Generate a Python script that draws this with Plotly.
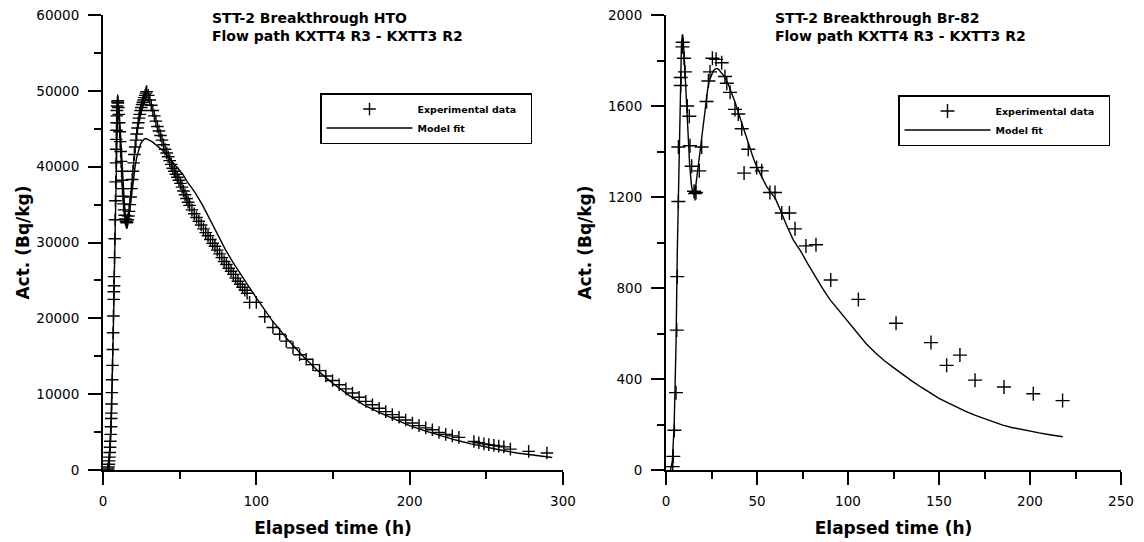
import plotly.graph_objects as go

# ---------------- HTO (left) ----------------
hto_t = [3.2, 3.4, 3.6, 3.8, 4.0, 4.2, 4.4, 4.6, 4.8, 5.0, 5.2, 5.4, 5.5, 5.6, 5.8, 6.0, 6.2, 6.4, 6.6, 6.8,
         7.0, 7.1, 7.2, 7.3, 7.5, 7.7, 7.9, 8.1, 8.3, 8.5, 8.6, 8.7, 8.8, 8.9, 9.0, 9.1, 9.2, 9.4, 9.6, 9.8,
         10.0, 10.3, 10.6, 10.9, 11.2, 11.5, 11.8, 12.1, 12.4, 12.7, 13.0, 13.4, 13.8, 14.2, 14.6, 15.0, 15.4, 15.8,
         16.2, 16.6, 17.0, 17.5, 18.0, 18.5, 19.0, 19.5, 20.0, 20.5, 21.0, 21.5, 22.0, 22.5, 23.0, 23.5, 24.0,
         24.5, 25.0, 25.5, 26.0, 26.5, 27.0, 27.5, 28.0, 28.5, 29.5, 30.5, 31.5, 32.5, 33.5, 34.5, 35.5, 36.5,
         37.5, 38.5, 39.5, 40.5, 41.5, 42.5, 43.5, 44.5, 45.5, 46.5, 47.5, 48.5, 49.5, 50.5, 51.5, 52.5, 53.5,
         54.5, 55.5, 56.5, 58, 59.5, 61, 62.5, 64, 65.5, 67, 68.5, 70, 71.5, 73, 74.5, 76, 77.5, 79, 80.5, 82,
         83.5, 85, 86.5, 88, 89.5, 91, 92.5, 94, 95.6, 100, 105.5, 110.8, 115.2, 119.5, 123.9, 128.2, 132.5,
         136.9, 141.2, 145.3, 149.7, 154.0, 158.4, 162.7, 167.0, 171.4, 175.7, 180.1, 184.4, 188.7, 193.1, 197.4,
         201.8, 206.1, 210.5, 214.8, 219.1, 223.5, 227.8, 232.1, 241.9, 245.1, 248.4, 251.6, 254.9, 258.1, 261.4,
         265.7, 277.6, 289.5]
hto_a = [0, 150, 400, 750, 1200, 1700, 2300, 3000, 3800, 4700, 5700, 6800, 7500, 8700, 10200, 11900, 13800, 15900, 18100, 20300,
         22500, 23500, 24300, 25500, 28000, 30500, 33000, 35500, 38000, 40500, 42300, 43600, 44800, 45800, 46700, 47400, 48000, 48500, 48700, 48400,
         47800, 46900, 45800, 44600, 43300, 42000, 40700, 39400, 38200, 37100, 36100, 35100, 34300, 33600, 33100, 32800, 32600, 32700,
         33000, 33500, 34100, 35000, 36000, 37100, 38300, 39400, 40500, 41600, 42600, 43500, 44300, 45100, 45800, 46400, 46900,
         47400, 47800, 48200, 48500, 48800, 49100, 49400, 49700, 49900, 49400, 48800, 48100, 47400, 46700, 46000, 45300, 44700,
         44100, 43500, 42900, 42300, 41800, 41300, 40800, 40300, 39800, 39400, 39000, 38600, 38200, 37800, 37300, 36800, 36300,
         35800, 35300, 34900, 34300, 33800, 33300, 32800, 32300, 31800, 31300, 30900, 30400, 29900, 29500, 29000, 28500, 28000, 27500, 27100, 26600,
         26200, 25800, 25300, 24900, 24500, 24100, 23700, 23300, 22100, 22100, 20200, 18800, 17900, 17000, 16100, 15200, 14600,
         13900, 13100, 12400, 11800, 11250, 10700, 10150, 9600, 9050, 8600, 8150, 7700, 7300, 6950, 6600,
         6200, 5850, 5550, 5300, 4950, 4700, 4500, 4300, 3750, 3600, 3450, 3350, 3250, 3150, 3050,
         2750, 2450, 2250]

hto_fit_t = [3.0, 3.5, 4.0, 4.5, 5.0, 5.5, 6.0, 6.5, 7.0, 7.5, 8.0, 8.5, 9.0, 9.5, 10.0, 10.5, 11.0, 11.5, 12.0,
             12.5, 13.0, 13.5, 14.0, 14.5, 15.0, 15.5, 16.0, 16.5, 17.0, 18.0, 19.0, 20.0, 21.0, 22.0, 23.0, 24.0,
             25.0, 26.0, 27.0, 28.0, 29.0, 30.0, 32.0, 34.0, 36.0, 38.0, 40.0, 43.0, 46.0, 49.0, 52.0, 55.0, 60.0,
             65.0, 70.0, 75.0, 80.0, 85.0, 90.0, 95.0, 100.0, 105.0, 110.0, 120.0, 130.0, 140.0, 150.0, 160.0, 170.0,
             180.0, 190.0, 200.0, 210.0, 220.0, 230.0, 240.0, 250.0, 260.0, 270.0, 280.0, 290.0, 293.0]
hto_fit_a = [0, 300, 1200, 2700, 4800, 7500, 11000, 15500, 21000, 27000, 33500, 39500, 44500, 47500, 48300, 47500, 45800, 43800, 41800,
             39800, 38000, 36400, 35000, 33900, 33100, 32700, 32700, 33000, 33600, 35200, 37000, 38700, 40100, 41200, 42100, 42700,
             43200, 43500, 43650, 43700, 43650, 43500, 43300, 43000, 42700, 42300, 41900, 41200, 40500, 39800, 39000, 38000, 36600,
             34900, 32900, 30900, 29000, 27300, 25700, 24200, 22700, 21200, 19800, 17300, 15100, 13100, 11400, 9900, 8600,
             7600, 6700, 5850, 5150, 4500, 3950, 3450, 3000, 2600, 2250, 1950, 1700, 1650]

# ---------------- Br-82 (right) ----------------
br_t = [3.7, 4.0, 4.6, 5.5, 5.9, 6.2, 6.8, 6.8, 8.1, 8.1, 9.0, 9.2, 9.9, 10.4, 11.7, 12.8, 13.2, 14.1, 15.4, 15.9,
        16.5, 18.3, 19.6, 22.3, 23.3, 24.2, 25.5, 27.5, 30.6, 32.4, 33.4, 35.2, 37.9, 39.7, 41.6, 42.9, 45.2, 49.8,
        52.6, 57.1, 59.9, 63.6, 67.8, 70.9, 76.9, 82.4, 90.5, 105.7, 126.4, 145.6, 154.2, 161.5, 169.8, 185.7,
        201.8, 217.9]
br_a = [15, 60, 175, 340, 615, 850, 1180, 1420, 1690, 1725, 1860, 1880, 1810, 1750, 1600, 1555, 1425, 1335, 1225, 1215,
        1220, 1315, 1420, 1620, 1710, 1750, 1810, 1805, 1790, 1730, 1700, 1660, 1585, 1565, 1500, 1305, 1410, 1330,
        1315, 1220, 1220, 1130, 1130, 1060, 985, 990, 835, 750, 645, 560, 460, 505, 395, 365,
        335, 305]

br_fit_t = [2.5, 3.5, 4.5, 5.5, 6.2, 7.0, 7.5, 8.0, 8.5, 9.0, 9.5, 10, 11, 12, 13, 14, 15, 16, 17, 18, 19, 20, 21,
            22, 23, 24, 25, 26, 27, 28, 29, 30, 32, 34, 36, 38, 40, 42, 44, 46, 48, 50, 52, 55, 58, 60, 63, 66, 70,
            74, 78, 82, 86, 90, 95, 100, 105, 110, 115, 120, 125, 130, 135, 140, 145, 150, 155, 160, 165, 170, 175,
            180, 185, 190, 195, 200, 205, 210, 215, 218]
br_fit_a = [0, 40, 200, 550, 950, 1300, 1550, 1760, 1870, 1915, 1890, 1820, 1650, 1480, 1340, 1250, 1212, 1225, 1290,
            1360, 1420, 1500, 1570, 1630, 1680, 1715, 1740, 1755, 1762, 1765, 1760, 1750, 1730, 1700, 1660, 1615, 1565,
            1515, 1460, 1410, 1370, 1330, 1295, 1250, 1215, 1195, 1140, 1080, 1010, 962, 905, 850, 798, 750, 700, 650,
            600, 555, 515, 480, 450, 420, 392, 365, 340, 315, 295, 275, 257, 240, 225, 210, 197, 187, 178, 170, 163,
            156, 150, 146]

titles = ["<b>STT-2 Breakthrough HTO<br>Flow path KXTT4 R3 - KXTT3 R2</b>",
          "<b>STT-2 Breakthrough Br-82<br>Flow path KXTT4 R3 - KXTT3 R2</b>"]
exp_name = "<b>Experimental data</b>\u00a0\u00a0\u00a0"
fit_name = "<b>Model fit</b>"

W, H = 1144, 542
OFF = 8  # page body margin compensation
FONT = "DejaVu Sans"


def px(x):
    return (x - OFF) / W


def py(y):
    return (H - (y - OFF)) / H


fig = go.Figure()
fig.add_trace(go.Scatter(x=hto_t, y=hto_a, mode="markers", name=exp_name,
                         marker=dict(symbol="cross-thin", size=9, line=dict(width=1.4, color="black"), color="black"),
                         xaxis="x", yaxis="y", legend="legend"))
fig.add_trace(go.Scatter(x=hto_fit_t, y=hto_fit_a, mode="lines", name=fit_name,
                         line=dict(color="black", width=1.4), xaxis="x", yaxis="y", legend="legend"))
fig.add_trace(go.Scatter(x=br_t, y=br_a, mode="markers", name=exp_name,
                         marker=dict(symbol="cross-thin", size=10, line=dict(width=1.4, color="black"), color="black"),
                         xaxis="x2", yaxis="y2", legend="legend2"))
fig.add_trace(go.Scatter(x=br_fit_t, y=br_fit_a, mode="lines", name=fit_name,
                         line=dict(color="black", width=1.4), xaxis="x2", yaxis="y2", legend="legend2"))


def ax(rng, dtick, mdtick, domain, anchor, title, standoff, lab_standoff):
    return dict(range=rng, dtick=dtick, tick0=0, domain=domain, anchor=anchor,
                automargin=False, tickformat="d", ticklabeloverflow="allow",
                showline=True, linecolor="black", linewidth=2, mirror=False,
                ticks="outside", ticklen=13, tickwidth=2, tickcolor="black",
                showgrid=False, zeroline=False,
                minor=dict(dtick=mdtick, ticks="outside", ticklen=7, tickwidth=1.5, tickcolor="black", showgrid=False),
                tickfont=dict(family=FONT, size=13.5, color="black"),
                ticklabelstandoff=lab_standoff,
                title=dict(text=title, font=dict(family=FONT, size=17, color="black"), standoff=standoff))


ydom = [py(470), py(15)]
xtitle = "<b>Elapsed time (h)</b>"
ytitle = "<b>Act. (Bq/kg)</b>"
fig.update_layout(
    width=W, height=H, margin=dict(l=0, r=0, t=0, b=0, autoexpand=False),
    paper_bgcolor="white", plot_bgcolor="white",
    xaxis=ax([0, 300], 100, 50, [px(103), px(563)], "y", xtitle, 14, 5),
    yaxis=ax([0, 60000], 10000, 5000, ydom, "x", ytitle, 2, 6),
    xaxis2=ax([0, 250], 50, 25, [px(666), px(1121)], "y2", xtitle, 14, 5),
    yaxis2=ax([0, 2000], 400, 200, ydom, "x2", ytitle, 12, 6),
    legend=dict(x=px(320), y=py(93), xanchor="left", yanchor="top", bgcolor="white",
                bordercolor="black", borderwidth=1.5, itemwidth=86,
                font=dict(family=FONT, size=9.5, color="black")),
    legend2=dict(x=px(898), y=py(95), xanchor="left", yanchor="top", bgcolor="white",
                 bordercolor="black", borderwidth=1.5, itemwidth=86,
                 font=dict(family=FONT, size=9.5, color="black")),
    showlegend=True,
)
for txt, x0 in zip(titles, [210, 773]):
    fig.add_annotation(text=txt, xref="paper", yref="paper", x=px(x0), y=py(8),
                       xanchor="left", yanchor="top", align="left", showarrow=False,
                       font=dict(family=FONT, size=14, color="black"))

fig.write_html("out.html")
